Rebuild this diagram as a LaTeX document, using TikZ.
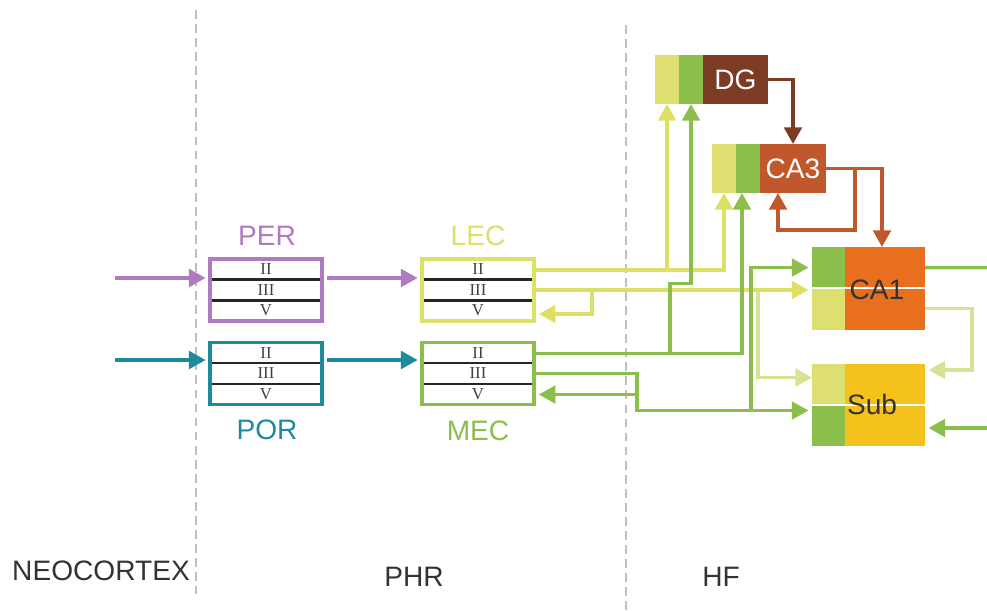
\documentclass[tikz,border=0pt]{standalone}
\usepackage{fontspec}
\setmainfont{Liberation Sans}
\newfontfamily\layerfont{Liberation Serif}
\usepackage{xcolor}
\usetikzlibrary{arrows.meta,positioning,calc}
\definecolor{perc}{HTML}{B07AC0}
\definecolor{porc}{HTML}{1E8A9E}
\definecolor{lecc}{HTML}{DCE064}
\definecolor{lecl}{HTML}{D8E292}
\definecolor{mecc}{HTML}{8CBE4B}
\definecolor{ecy}{HTML}{DDE070}
\definecolor{dgc}{HTML}{7B3B24}
\definecolor{ca3c}{HTML}{C0582B}
\definecolor{ca1c}{HTML}{E86F1E}
\definecolor{subc}{HTML}{F5C11C}
\tikzset{
  area/.style    ={draw,line width=2pt,minimum width=2.24cm,minimum height=1.24cm,inner sep=0pt,
                   align=center,text=black!75,font=\layerfont\fontsize{9.5}{11.7}\selectfont,
                   path picture={\draw[black!85,line width=1.5pt]
                     ($(path picture bounding box.north west)!1/3!(path picture bounding box.south west)$) --
                     ($(path picture bounding box.north east)!1/3!(path picture bounding box.south east)$)
                     ($(path picture bounding box.north west)!2/3!(path picture bounding box.south west)$) --
                     ($(path picture bounding box.north east)!2/3!(path picture bounding box.south east)$);}},
  hip/.style     ={minimum height=0.98cm,inner sep=0pt,outer sep=0pt,text=white,font=\fontsize{16}{16}\selectfont},
  strip/.style   ={minimum width=0.48cm,minimum height=0.98cm,inner sep=0pt,outer sep=0pt},
  areaname/.style={font=\fontsize{16}{16}\selectfont},
  region/.style  ={font=\fontsize{16}{16}\selectfont,text=black!80},
  divide/.style  ={draw=black!25,line width=1pt,dash pattern=on 5pt off 3pt},
  flow/.style    ={-{Triangle[length=9.5pt,width=10pt]},line width=2pt},
}
\begin{document}
\begin{tikzpicture}[x=0.02cm,y=-0.02cm]
  \useasboundingbox (0,0) rectangle (987,610);
  % region borders
  \coordinate (d1t) at (196,10);  \coordinate (d1b) at (196,594);
  \coordinate (d2t) at (626,25);  \coordinate (d2b) at (626,610);
  \draw[divide] (d1t) -- (d1b);
  \draw[divide] (d2t) -- (d2b);
  \node[region] (neo) at (101,571) {NEOCORTEX};
  \node[region] (phr) at (414,577) {PHR};
  \node[region] (hf)  at (721,577) {HF};

  % parahippocampal areas
  \node[area,draw=perc] (per) at (266,290) {II\\III\\V};
  \node[area,draw=porc] (por) at (266,373.5) {II\\III\\V};
  \node[area,draw=lecc] (lec) at (478,290) {II\\III\\V};
  \node[area,draw=mecc] (mec) at (478,373.5) {II\\III\\V};
  \node[areaname,text=perc] (per-t) at (267,236) {PER};
  \node[areaname,text=porc] (por-t) at (267,430) {POR};
  \node[areaname,text=lecc] (lec-t) at (478,236) {LEC};
  \node[areaname,text=mecc] (mec-t) at (478,431) {MEC};

  % hippocampal fields
  \node[hip,fill=dgc,minimum width=1.3cm] (dg) at (735.5,79.5) {DG};
  \node[strip,fill=mecc,left=0pt of dg] (dg-g) {};
  \node[strip,fill=ecy,left=0pt of dg-g] (dg-y) {};
  \node[hip,fill=ca3c,minimum width=1.32cm] (ca3) at (793,168.5) {CA3};
  \node[strip,fill=mecc,left=0pt of ca3] (ca3-g) {};
  \node[strip,fill=ecy,left=0pt of ca3-g] (ca3-y) {};

  \node[hip,fill=ca1c,minimum width=1.6cm,minimum height=1.66cm] (ca1) at (885,288.5) {};
  \node[strip,fill=mecc,minimum width=0.66cm,minimum height=0.82cm,anchor=north east] (ca1-g) at (ca1.north west) {};
  \node[strip,fill=ecy,minimum width=0.66cm,minimum height=0.84cm,anchor=south east] (ca1-y) at (ca1.south west) {};
  \draw[white,line width=1pt] (ca1-g.south west) -- (ca1-g.south west -| ca1.east);
  \node[areaname,text=black!80] (ca1-l) at (877,290) {CA1};

  \node[hip,fill=subc,minimum width=1.6cm,minimum height=1.64cm] (sub) at (885,405) {};
  \node[strip,fill=ecy,minimum width=0.66cm,minimum height=0.82cm,anchor=north east] (sub-y) at (sub.north west) {};
  \node[strip,fill=mecc,minimum width=0.66cm,minimum height=0.82cm,anchor=south east] (sub-g) at (sub.south west) {};
  \draw[white,line width=1pt] (sub-y.south west) -- (sub-y.south west -| sub.east);
  \node[areaname,text=black!80] (sub-l) at (872,404) {Sub};

  % neocortical input
  \coordinate (nc-per) at (115,278);
  \coordinate (nc-por) at (115,360);
  \draw[flow,perc,shorten >=1.5pt] (nc-per) -- (nc-per -| per.west);
  \draw[flow,porc,shorten >=1.5pt] (nc-por) -- (nc-por -| por.west);
  \draw[flow,perc,shorten <=2pt,shorten >=1.5pt] (nc-per -| per.east) -- (nc-per -| lec.west);
  \draw[flow,porc,shorten <=2pt,shorten >=1.5pt] (nc-por -| por.east) -- (nc-por -| mec.west);

  % LEC projections
  \draw[flow,lecl] ($(lec.east -| ca1-y.west)+(-54,0)$) |- ($(sub-y.west)+(0,-7)$);
  \draw[flow,lecc] ($(lec.east)+(0,-20)$) -| (dg-y.south);
  \draw[flow,lecc] ($(lec.east)+(0,-20)$) -| (ca3-y.south);
  \draw[flow,lecc,shorten >=2pt] (lec.east) -- (lec.east -| ca1-y.west);
  \draw[flow,lecc] ($(lec.east)+(56,0)$) |- ($(lec.east)+(3,24)$);

  % MEC projections
  \draw[flow,mecc] ($(mec.east)+(0,-20)$) -| ($(ca3-g.south)+(-6,0)$);
  \draw[flow,mecc] ($(mec.east)+(134,-20)$) -- ++(0,-70) -| (dg-g.south);
  \draw[flow,mecc,shorten >=2pt] (mec.east) -- ++(101,0) |- ($(sub-g.west)+(0,-15)$);
  \draw[flow,mecc,shorten >=2pt] ($(sub-g.west)+(-61,-15)$) |- (ca1-g.west);
  \draw[flow,mecc] ($(mec.east)+(101,0)$) |- ($(mec.east)+(3,21)$);

  % intrahippocampal
  \draw[flow,dgc] (dg.east) -| (ca3.north);
  \draw[flow,ca3c] (ca3.east) -| ($(ca1.north)+(-3,0)$);
  \draw[flow,ca3c] ($(ca3.east)+(29,0)$) -- ++(0,61.5) -| ($(ca3.south)+(-15,0)$);

  % CA1 and subiculum
  \coordinate (out-ca1) at (987,267.5);
  \coordinate (in-sub) at (987,428);
  \draw[mecc,line width=2pt] (ca1-g.west -| ca1.east) -- (out-ca1);
  \draw[flow,lecl,shorten >=2pt] ($(ca1.east)+(0,20)$) -- ++(47,0) |- ($(sub.east)+(0,-35)$);
  \draw[flow,mecc,shorten >=2pt] (in-sub) -- (in-sub -| sub.east);
\end{tikzpicture}
\end{document}
